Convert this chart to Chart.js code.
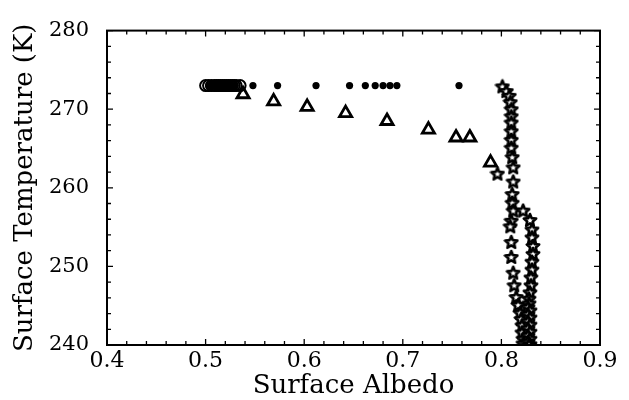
<!DOCTYPE html>
<html>
<head>
<meta charset="utf-8">
<script src="https://cdn.jsdelivr.net/npm/chart.js@4"></script>
<style>
  html, body { margin: 0; padding: 0; background: #fff; }
  canvas { display: block; }
</style>
</head>
<body>
<canvas id="albedoChart" width="629" height="400"></canvas>
<script>
// axis ticks
const xTicks = [0.4, 0.5, 0.6, 0.7, 0.8, 0.9];
const yTicks = [240, 250, 260, 270, 280];

// filled dots
const dotAlbedo = [0.503, 0.506, 0.509, 0.512, 0.515, 0.518, 0.521, 0.524, 0.527, 0.530, 0.548, 0.573, 0.612, 0.646, 0.662, 0.672, 0.680, 0.687, 0.694, 0.757];
const dotTemp = [273, 273, 273, 273, 273, 273, 273, 273, 273, 273, 273, 273, 273, 273, 273, 273, 273, 273, 273, 273];

// open circles
const circleAlbedo = [0.500, 0.503, 0.506, 0.509, 0.511, 0.513, 0.515, 0.517, 0.519, 0.521, 0.523, 0.525, 0.527, 0.529, 0.531, 0.535];
const circleTemp = [273, 273, 273, 273, 273, 273, 273, 273, 273, 273, 273, 273, 273, 273, 273, 273];

// open triangles
const triAlbedo = [0.538, 0.569, 0.603, 0.642, 0.684, 0.726, 0.754, 0.768, 0.789];
const triTemp = [271.9, 271.0, 270.3, 269.5, 268.5, 267.4, 266.4, 266.4, 263.2];

// stars, left branch
const starAlbedoA = [0.801, 0.805, 0.808, 0.809, 0.810, 0.810, 0.810, 0.810, 0.810, 0.810, 0.811, 0.796, 0.812, 0.812, 0.811, 0.811, 0.812,
    0.810, 0.809, 0.810, 0.810, 0.812, 0.813, 0.815, 0.817, 0.819, 0.820, 0.821, 0.821, 0.822, 0.822];
const starTempA = [272.9, 272.3, 271.7, 270.9, 270.0, 269.1, 268.3, 267.2, 266.1, 265.1, 263.9, 261.8, 262.6, 260.8, 259.2, 258.1, 257.1,
    255.8, 255.1, 253.1, 251.2, 249.2, 247.6, 246.1, 245.1, 244.1, 243.3, 242.5, 241.6, 240.8, 240.2];

// stars, right branch
const starAlbedoB = [0.822, 0.829, 0.831, 0.831, 0.832, 0.832, 0.831, 0.831, 0.830, 0.830, 0.829, 0.828, 0.828, 0.827, 0.829, 0.827,
    0.829, 0.827, 0.829, 0.827, 0.829, 0.827, 0.829, 0.827, 0.829, 0.828];
const starTempB = [257.1, 255.9, 254.7, 253.7, 252.6, 251.6, 250.6, 249.6, 248.6, 247.6, 246.7, 245.9, 245.3, 244.8, 244.4, 243.9,
    243.5, 243.0, 242.6, 242.1, 241.7, 241.2, 240.8, 240.4, 240.1, 240.0];

const FONT = "'DejaVu Serif', serif";

function toPoints(xs, ys) {
    return xs.map((x, i) => ({ x: x, y: ys[i] }));
}

function makeStar(size) {
    const c = document.createElement('canvas');
    c.width = size;
    c.height = size;
    const g = c.getContext('2d');
    const cx = size / 2, cy = size / 2 + 0.5;
    const outer = size / 2 - 1.5, inner = outer * 0.45;
    g.beginPath();
    for (let i = 0; i < 10; i++) {
        const r = i % 2 === 0 ? outer : inner;
        const a = -Math.PI / 2 + i * Math.PI / 5;
        const px = cx + r * Math.cos(a), py = cy + r * Math.sin(a);
        if (i === 0) g.moveTo(px, py); else g.lineTo(px, py);
    }
    g.closePath();
    g.fillStyle = '#fff';
    g.fill();
    g.lineWidth = 2.6;
    g.lineJoin = 'round';
    g.strokeStyle = '#000';
    g.stroke();
    return c;
}

const starImg = makeStar(16);

// frame + inward ticks on all four sides
const frameTicks = {
    id: 'frameTicks',
    afterDraw(chart) {
        const { ctx, chartArea: a, scales } = chart;
        const xs = scales.x, ys = scales.y;
        ctx.save();
        ctx.strokeStyle = '#000';
        ctx.lineWidth = 2;
        ctx.strokeRect(a.left, a.top, a.right - a.left, a.bottom - a.top);
        ctx.lineWidth = 1.3;
        ctx.beginPath();
        for (let i = 0; i <= 25; i++) {
            const v = xs.min + i * 0.02;
            const px = xs.getPixelForValue(v);
            const len = i % 5 === 0 ? 6 : 4;
            ctx.moveTo(px, a.bottom); ctx.lineTo(px, a.bottom - len);
            ctx.moveTo(px, a.top); ctx.lineTo(px, a.top + len);
        }
        for (let i = 0; i <= 20; i++) {
            const v = ys.min + i * 2;
            const py = ys.getPixelForValue(v);
            const len = i % 5 === 0 ? 6 : 4;
            ctx.moveTo(a.left, py); ctx.lineTo(a.left + len, py);
            ctx.moveTo(a.right, py); ctx.lineTo(a.right - len, py);
        }
        ctx.stroke();
        ctx.restore();
    }
};

new Chart(document.getElementById('albedoChart').getContext('2d'), {
    type: 'scatter',
    data: {
        datasets: [
            {
                label: 'circles',
                data: toPoints(circleAlbedo, circleTemp),
                pointStyle: 'circle',
                pointRadius: 5.5,
                borderColor: '#000',
                backgroundColor: 'rgba(255,255,255,0)',
                borderWidth: 2
            },
            {
                label: 'dots',
                data: toPoints(dotAlbedo, dotTemp),
                pointStyle: 'circle',
                pointRadius: 3.6,
                borderColor: '#000',
                backgroundColor: '#000',
                borderWidth: 0
            },
            {
                label: 'triangles',
                data: toPoints(triAlbedo, triTemp),
                pointStyle: 'triangle',
                pointRadius: 7,
                borderColor: '#000',
                backgroundColor: '#fff',
                borderWidth: 2.8
            },
            {
                label: 'stars right',
                data: toPoints(starAlbedoB, starTempB),
                pointStyle: starImg
            },
            {
                label: 'stars left',
                data: toPoints(starAlbedoA, starTempA),
                pointStyle: starImg
            }
        ]
    },
    options: {
        responsive: false,
        devicePixelRatio: 1,
        animation: false,
        layout: { padding: { top: 18, right: 29, left: 0, bottom: 0 } },
        plugins: {
            legend: { display: false },
            tooltip: { enabled: false }
        },
        scales: {
            x: {
                type: 'linear',
                min: 0.4,
                max: 0.9,
                afterBuildTicks: s => { s.ticks = xTicks.map(v => ({ value: v })); },
                afterFit: s => { s.height = 55; },
                grid: { display: false, drawTicks: false },
                border: { display: false },
                ticks: {
                    padding: 3,
                    color: '#000',
                    font: { family: FONT, size: 22 },
                    maxRotation: 0,
                    callback: v => v.toFixed(1)
                },
                title: {
                    display: true,
                    text: 'Surface Albedo',
                    color: '#000',
                    font: { family: FONT, size: 26, lineHeight: 1 },
                    padding: { top: 0, bottom: 1 }
                }
            },
            y: {
                type: 'linear',
                min: 240,
                max: 280,
                afterBuildTicks: s => { s.ticks = yTicks.map(v => ({ value: v })); },
                afterFit: s => { s.width = 107; },
                grid: { display: false, drawTicks: false },
                border: { display: false },
                ticks: {
                    padding: 18,
                    color: '#000',
                    font: { family: FONT, size: 21 }
                },
                title: {
                    display: true,
                    text: 'Surface Temperature (K)',
                    color: '#000',
                    font: { family: FONT, size: 26, lineHeight: 1 },
                    padding: { top: 12, bottom: 0 }
                }
            }
        }
    },
    plugins: [frameTicks]
});
</script>
</body>
</html>
